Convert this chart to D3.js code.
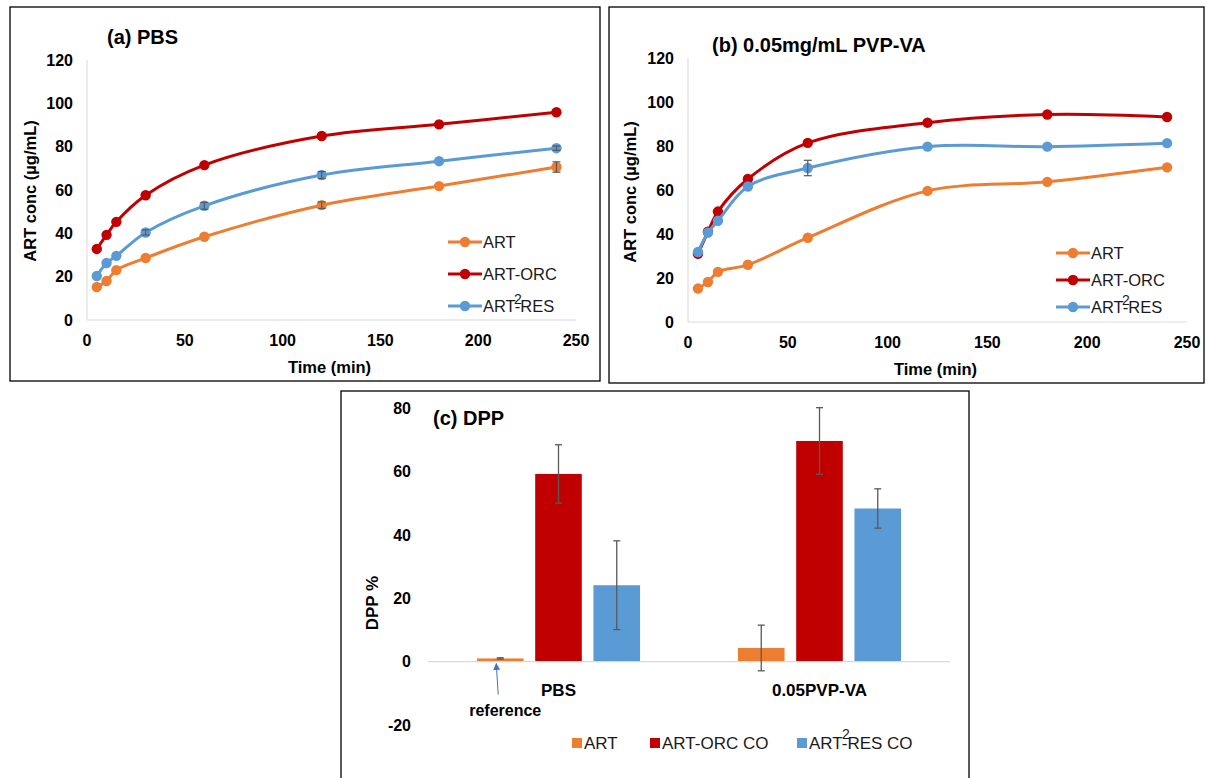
<!DOCTYPE html>
<html>
<head>
<meta charset="utf-8">
<script src="https://cdn.jsdelivr.net/npm/d3@7"></script>
<style>
  body { margin: 0; background: #fff; }
</style>
</head>
<body>
<div id="chart"></div>
<script>
// --- data ---
const timeMin = [5, 10, 15, 30, 60, 120, 180, 240];
const seriesNames = ['ART', 'ART-ORC', 'ART-RES'];

// (a) PBS release profiles
const pbsArt = [15.2, 18.0, 23.0, 28.6, 38.4, 53.0, 61.8, 70.6];
const pbsOrc = [32.8, 39.3, 45.3, 57.6, 71.5, 84.9, 90.3, 95.9];
const pbsRes = [20.3, 26.3, 29.6, 40.4, 52.7, 66.9, 73.3, 79.3];
const pbsArtErr = [0, 0, 0, 0, 0, 1.5, 0, 2.4];
const pbsOrcErr = [0, 0, 0, 0, 0, 0, 0, 0];
const pbsResErr = [0, 0, 0, 1.2, 1.6, 1.6, 0, 1.0];

// (b) 0.05 mg/mL PVP-VA release profiles
const pvpArt = [15.2, 18.2, 22.8, 26.0, 38.3, 59.6, 63.7, 70.3];
const pvpOrc = [31.0, 41.0, 50.2, 65.0, 81.4, 90.6, 94.3, 93.2];
const pvpRes = [31.8, 40.6, 46.0, 61.6, 70.0, 79.7, 79.7, 81.3];
const pvpArtErr = [0, 0, 0, 0, 0, 0, 0, 0];
const pvpOrcErr = [0, 0, 0, 0, 0, 0, 0, 0];
const pvpResErr = [0, 0, 0, 0, 3.5, 0, 0, 0];

// (c) DPP bars
const dppCategories = ['PBS', '0.05PVP-VA'];
const dppNames = ['ART', 'ART-ORC CO', 'ART-RES CO'];
const dppArt = [1.0, 4.3];
const dppOrc = [59.2, 69.6];
const dppRes = [24.1, 48.3];
const dppArtErr = [0.2, 7.2];
const dppOrcErr = [9.2, 10.5];
const dppResErr = [14.0, 6.2];

const lineTicksY = [0, 20, 40, 60, 80, 100, 120];
const lineTicksX = [0, 50, 100, 150, 200, 250];
const barTicksY = [-20, 0, 20, 40, 60, 80];

const colors = ['#ED7D31', '#C00000', '#5B9BD5'];
const font = "'Liberation Sans', Arial, sans-serif";
const errColor = '#595959';

const svg = d3.select('#chart').append('svg')
  .attr('width', 1208)
  .attr('height', 778)
  .style('font-family', font);

svg.append('rect').attr('width', 1208).attr('height', 778).attr('fill', '#fff');

/**
 * Line panel (a)/(b): smoothed lines with markers, like the Excel charts.
 */
function drawLinePanel(p) {
  const g = svg.append('g');

  g.append('rect')
    .attr('x', p.box[0]).attr('y', p.box[1])
    .attr('width', p.box[2]).attr('height', p.box[3])
    .attr('fill', 'none').attr('stroke', '#000').attr('stroke-width', 1.3);

  const x = d3.scaleLinear().domain([0, 250]).range(p.xr);
  const y = d3.scaleLinear().domain([0, 120]).range(p.yr);

  // axis lines
  g.append('line')
    .attr('x1', x(0)).attr('x2', x(0)).attr('y1', y(0)).attr('y2', y(120))
    .attr('stroke', '#d9d9d9').attr('stroke-width', 1);
  g.append('line')
    .attr('x1', x(0)).attr('x2', x(250)).attr('y1', y(0)).attr('y2', y(0))
    .attr('stroke', '#d9d9d9').attr('stroke-width', 1);

  // tick labels
  g.selectAll('.yt').data(lineTicksY).join('text')
    .attr('x', x(0) - 14).attr('y', d => y(d)).attr('dy', '0.36em')
    .attr('text-anchor', 'end').attr('font-size', 16).attr('font-weight', 'bold')
    .text(d => d);
  g.selectAll('.xt').data(lineTicksX).join('text')
    .attr('x', d => x(d)).attr('y', y(0) + 26)
    .attr('text-anchor', 'middle').attr('font-size', 16).attr('font-weight', 'bold')
    .text(d => d);

  // axis titles
  g.append('text')
    .attr('transform', `translate(${p.yTitle[0]},${p.yTitle[1]}) rotate(-90)`)
    .attr('text-anchor', 'middle').attr('font-size', 16.5).attr('font-weight', 'bold')
    .text('ART conc (\u00b5g/mL)');
  g.append('text')
    .attr('x', (x(0) + x(250)) / 2 - 2).attr('y', y(0) + 53)
    .attr('text-anchor', 'middle').attr('font-size', 16.5).attr('font-weight', 'bold')
    .text('Time (min)');

  // chart title
  g.append('text')
    .attr('x', p.title[0]).attr('y', p.title[1])
    .attr('font-size', 20).attr('font-weight', 'bold')
    .text(p.titleText);

  const line = d3.line()
    .x(d => x(d.t))
    .y(d => y(d.v))
    .curve(d3.curveCatmullRom.alpha(0.5));

  p.series.forEach((s, i) => {
    const pts = timeMin.map((t, k) => ({ t, v: s.values[k], e: s.err[k] }));
    g.append('path')
      .attr('d', line(pts))
      .attr('fill', 'none').attr('stroke', colors[i]).attr('stroke-width', 3);
    g.selectAll(null).data(pts).join('circle')
      .attr('cx', d => x(d.t)).attr('cy', d => y(d.v)).attr('r', 5.2)
      .attr('fill', colors[i]);
  });

  // error bars on top
  p.series.forEach((s) => {
    const pts = timeMin.map((t, k) => ({ t, v: s.values[k], e: s.err[k] })).filter(d => d.e > 0);
    const eg = g.append('g').attr('stroke', errColor).attr('stroke-width', 1.2);
    eg.selectAll(null).data(pts).join('line')
      .attr('x1', d => x(d.t)).attr('x2', d => x(d.t))
      .attr('y1', d => y(d.v - d.e)).attr('y2', d => y(d.v + d.e));
    eg.selectAll(null).data(pts.flatMap(d => [d.v - d.e, d.v + d.e].map(v => ({ t: d.t, v })))).join('line')
      .attr('x1', d => x(d.t) - 4).attr('x2', d => x(d.t) + 4)
      .attr('y1', d => y(d.v)).attr('y2', d => y(d.v));
  });

  // legend
  seriesNames.forEach((name, i) => {
    const ly = p.legend[1] + i * p.legendGap;
    const lx = p.legend[0];
    g.append('line')
      .attr('x1', lx).attr('x2', lx + 34).attr('y1', ly).attr('y2', ly)
      .attr('stroke', colors[i]).attr('stroke-width', 3);
    g.append('circle').attr('cx', lx + 17).attr('cy', ly).attr('r', 5.2).attr('fill', colors[i]);
    g.append('text')
      .attr('x', lx + 35).attr('y', ly + 6)
      .attr('font-size', 16.5).attr('fill', '#1a1a1a')
      .text(name);
    if (name === 'ART-RES') {
      g.append('text')
        .attr('x', lx + 66).attr('y', ly - 2)
        .attr('font-size', 14).attr('fill', '#1a1a1a')
        .text('2');
    }
  });
}

drawLinePanel({
  box: [10, 7, 590, 374],
  xr: [87, 576], yr: [320, 60],
  title: [107, 44], titleText: '(a) PBS',
  yTitle: [36, 191],
  legend: [448, 242], legendGap: 32,
  series: [
    { values: pbsArt, err: pbsArtErr },
    { values: pbsOrc, err: pbsOrcErr },
    { values: pbsRes, err: pbsResErr }
  ]
});

drawLinePanel({
  box: [609, 7, 595, 376],
  xr: [688, 1187], yr: [322, 58],
  title: [712, 52], titleText: '(b) 0.05mg/mL PVP-VA',
  yTitle: [636, 192],
  legend: [1056, 253], legendGap: 27,
  series: [
    { values: pvpArt, err: pvpArtErr },
    { values: pvpOrc, err: pvpOrcErr },
    { values: pvpRes, err: pvpResErr }
  ]
});

/**
 * Bar panel (c): clustered bars with error bars.
 */
function drawBarPanel() {
  const g = svg.append('g');

  g.append('rect')
    .attr('x', 341).attr('y', 391).attr('width', 628).attr('height', 400)
    .attr('fill', 'none').attr('stroke', '#000').attr('stroke-width', 1.3);

  const x0 = d3.scaleBand().domain(dppCategories).range([428, 950]);
  const x1 = d3.scaleBand().domain(dppNames).range([0, x0.bandwidth()])
    .paddingInner(0.2).paddingOuter(0.84);
  const y = d3.scaleLinear().domain([-20, 80]).range([725, 408]);

  const vals = [dppArt, dppOrc, dppRes];
  const errs = [dppArtErr, dppOrcErr, dppResErr];
  const bars = [];
  dppCategories.forEach((c, ci) => {
    dppNames.forEach((n, si) => {
      bars.push({ c, n, si, v: vals[si][ci], e: errs[si][ci] });
    });
  });

  // tick labels
  g.selectAll('.yt').data(barTicksY).join('text')
    .attr('x', 411).attr('y', d => y(d)).attr('dy', '0.36em')
    .attr('text-anchor', 'end').attr('font-size', 16).attr('font-weight', 'bold')
    .text(d => d);

  g.selectAll('.bar').data(bars).join('rect')
    .attr('x', d => x0(d.c) + x1(d.n))
    .attr('width', x1.bandwidth())
    .attr('y', d => y(Math.max(0, d.v)))
    .attr('height', d => Math.abs(y(d.v) - y(0)))
    .attr('fill', d => colors[d.si]);

  // zero line
  g.append('line')
    .attr('x1', 428).attr('x2', 950).attr('y1', y(0)).attr('y2', y(0))
    .attr('stroke', '#d9d9d9').attr('stroke-width', 1.2);

  const eg = g.append('g').attr('stroke', errColor).attr('stroke-width', 1.3);
  const cx = d => x0(d.c) + x1(d.n) + x1.bandwidth() / 2;
  eg.selectAll(null).data(bars).join('line')
    .attr('x1', cx).attr('x2', cx)
    .attr('y1', d => y(d.v - d.e)).attr('y2', d => y(d.v + d.e));
  eg.selectAll(null).data(bars.flatMap(d => [d.v - d.e, d.v + d.e].map(v => ({ ...d, v })))).join('line')
    .attr('x1', d => cx(d) - 3.5).attr('x2', d => cx(d) + 3.5)
    .attr('y1', d => y(d.v)).attr('y2', d => y(d.v));

  // category labels
  g.selectAll('.xt').data(dppCategories).join('text')
    .attr('x', d => x0(d) + x0.bandwidth() / 2).attr('y', y(0) + 34)
    .attr('text-anchor', 'middle').attr('font-size', 17).attr('font-weight', 'bold')
    .text(d => d);

  // y title
  g.append('text')
    .attr('transform', `translate(378,603) rotate(-90)`)
    .attr('text-anchor', 'middle').attr('font-size', 17).attr('font-weight', 'bold')
    .text('DPP %');

  g.append('text')
    .attr('x', 433).attr('y', 425)
    .attr('font-size', 20).attr('font-weight', 'bold')
    .text('(c) DPP');

  // "reference" annotation on the ART/PBS bar
  const ref = bars[0];
  const ax = cx(ref) - 4;
  svg.append('defs').append('marker')
    .attr('id', 'arrow').attr('viewBox', '0 0 10 10')
    .attr('refX', 9).attr('refY', 5)
    .attr('markerWidth', 7).attr('markerHeight', 7)
    .attr('orient', 'auto-start-reverse')
    .append('path').attr('d', 'M0,0 L10,5 L0,10 z').attr('fill', '#4472C4');
  g.append('line')
    .attr('x1', ax + 2).attr('y1', y(0) + 33)
    .attr('x2', ax).attr('y2', y(0) + 2)
    .attr('stroke', '#4472C4').attr('stroke-width', 1)
    .attr('marker-end', 'url(#arrow)');
  g.append('text')
    .attr('x', ax + 9).attr('y', y(0) + 54)
    .attr('text-anchor', 'middle').attr('font-size', 16).attr('font-weight', 'bold')
    .text('reference');

  // legend
  const legX = [572, 650, 797];
  dppNames.forEach((n, i) => {
    g.append('rect')
      .attr('x', legX[i]).attr('y', 738).attr('width', 10).attr('height', 10)
      .attr('fill', colors[i]);
    g.append('text')
      .attr('x', legX[i] + 12).attr('y', 749)
      .attr('font-size', 17).attr('fill', '#1a1a1a')
      .text(n);
    if (n === 'ART-RES CO') {
      g.append('text')
        .attr('x', legX[i] + 45).attr('y', 739)
        .attr('font-size', 14).attr('fill', '#1a1a1a')
        .text('2');
    }
  });
}

drawBarPanel();
</script>
</body>
</html>
